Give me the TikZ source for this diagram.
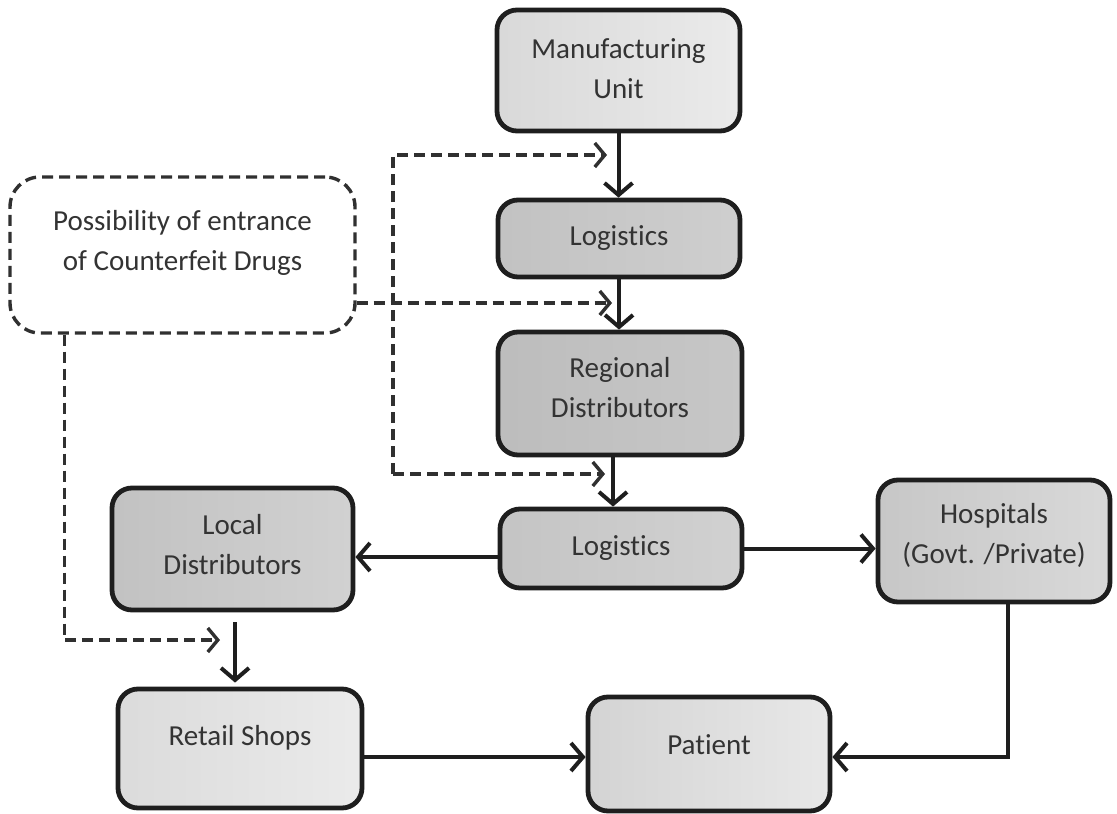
\documentclass[tikz,border=0pt]{standalone}
\usepackage{fontspec}
\setmainfont[Ligatures=NoCommon]{Carlito}
\usetikzlibrary{arrows.meta}
\definecolor{txtc}{HTML}{333333}
\definecolor{linec}{HTML}{1E1E1E}
\begin{document}
\begin{tikzpicture}[x=1pt,y=-1pt,
  box/.style={draw=linec, line width=4.8pt, rounded corners=20pt, inner sep=0pt},
  dbox/.style={draw=linec!92, line width=3.4pt, dash pattern=on 11pt off 6pt, rounded corners=30pt, inner sep=0pt, fill=white},
  txt/.style={align=center, text=txtc, font=\fontsize{29}{40}\selectfont, inner sep=0pt},
  arr/.style={draw=linec, line width=4pt, -{Straight Barb[length=12pt,width=28pt,line width=4pt]}},
  darr/.style={draw=linec!92, line width=3.4pt, dash pattern=on 11pt off 6pt, -{Straight Barb[length=10pt,width=24pt,line width=3.4pt]}}
]
\useasboundingbox (0,0) rectangle (1117,814);

% boxes
\node[box, minimum width=243pt, minimum height=121pt, left color=black!15, right color=black!8] (man) at (618.5,70.5) {};
\node[txt] (man-t) at ([yshift=2pt]man) {Manufacturing\\Unit};

\node[box, minimum width=242pt, minimum height=77pt, left color=black!24, right color=black!19] (log1) at (619,238.5) {};
\node[txt] (log1-t) at (log1) {Logistics};

\node[box, minimum width=244pt, minimum height=123pt, left color=black!26, right color=black!22] (reg) at (620,393.5) {};
\node[txt] (reg-t) at ([yshift=6pt]reg) {Regional\\Distributors};

\node[box, minimum width=242pt, minimum height=79pt, left color=black!23, right color=black!18] (log2) at (621,548.5) {};
\node[txt] (log2-t) at (log2) {Logistics};

\node[dbox, minimum width=345pt, minimum height=156pt] (poss) at (182.5,255) {};
\node[txt] (poss-t) at ([yshift=12pt]poss) {Possibility of entrance\\of Counterfeit Drugs};

\node[box, minimum width=241pt, minimum height=122pt, left color=black!24, right color=black!18] (local) at (232.5,549) {};
\node[txt] (local-t) at ([yshift=4pt]local) {Local\\Distributors};

\node[box, minimum width=232pt, minimum height=122pt, left color=black!22, right color=black!15] (hosp) at (994,541) {};
\node[txt] (hosp-t) at ([yshift=6pt]hosp) {Hospitals\\(Govt. /Private)};

\node[box, minimum width=244pt, minimum height=119pt, left color=black!14, right color=black!8] (retail) at (240,748.5) {};
\node[txt] (retail-t) at ([yshift=11pt]retail) {Retail Shops};

\node[box, minimum width=242pt, minimum height=114pt, left color=black!17, right color=black!9] (pat) at (709,754) {};
\node[txt] (pat-t) at ([yshift=9pt]pat) {Patient};

% solid connectors
\coordinate (py) at (0,757);
\draw[arr] (man.south) -- (man.south |- log1.north);
\draw[arr] (log1.south) -- (log1.south |- reg.north);
\draw[arr] ([xshift=-7pt]reg.south) -- ([xshift=-7pt]reg.south |- log2.north);
\draw[arr] ([yshift=-8.5pt]log2.west) -- ([yshift=-8.5pt]log2.west -| local.east);
\draw[arr] (log2.east) -- (log2.east -| hosp.west);
\draw[arr] ([xshift=14pt]hosp.south) |- (pat.east |- py);
\draw[arr] (retail.east |- py) -- (pat.west |- py);
\draw[arr] ([xshift=2.5pt,yshift=-10pt]local.south) -- ([xshift=2.5pt,yshift=4pt]local.south |- retail.north);

% dashed connectors
\coordinate (dT) at (393,155);
\coordinate (dB) at (393,474);
\coordinate (tT) at (607,155);
\coordinate (tM) at (612,303);
\coordinate (tB) at (605,474);
\coordinate (tL) at (220,640);
\draw[darr] (dB) -- (dT) -- (tT);
\draw[darr] (dB) -- (tB);
\draw[darr] (poss.east |- tM) -- (tM);
\draw[darr] ([xshift=56pt]poss.south west) |- (tL);
\end{tikzpicture}
\end{document}
